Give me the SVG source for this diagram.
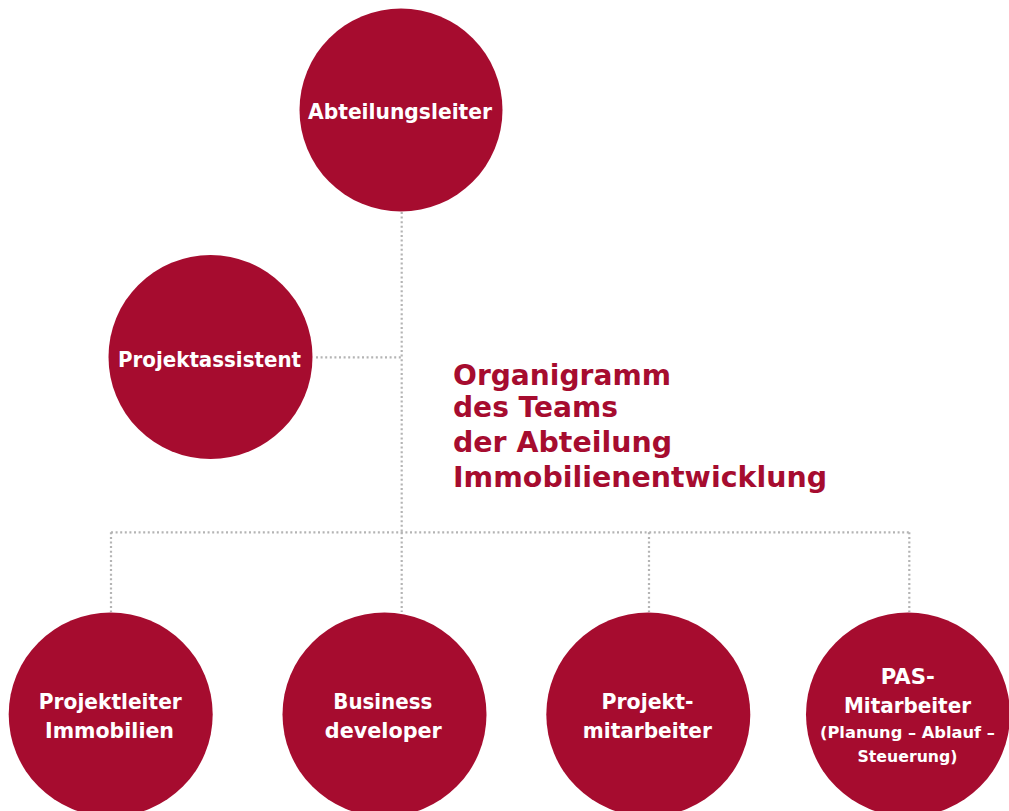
<svg xmlns="http://www.w3.org/2000/svg" width="1009" height="811" viewBox="0 0 1009 811">
<style>
.node{fill:#A60C2F}
.lbl{font-family:"DejaVu Sans","Liberation Sans",sans-serif;font-weight:bold;font-size:21px;fill:#fff;text-anchor:middle}
.sm{font-size:15px}
.title{font-family:"DejaVu Sans","Liberation Sans",sans-serif;font-weight:bold;font-size:29px;fill:#A60C2F}
.con{stroke:#B4B4B4;stroke-width:2.2;stroke-dasharray:2 2.6;fill:none}
</style>
<rect width="1009" height="811" fill="#fff"/>
<g id="connectors">
<path class="con" d="M401.7 212V532"/>
<path class="con" d="M316 357.3H401.7"/>
<path class="con" d="M111 532.3H909.3"/>
<path class="con" d="M111 532.3V612"/>
<path class="con" d="M401.7 532.3V612"/>
<path class="con" d="M649 532.3V612"/>
<path class="con" d="M909.3 532.3V612"/>
</g>
<g id="abteilungsleiter">
<circle class="node" cx="401" cy="110" r="101.5"/>
<text class="lbl" x="400" y="119" textLength="184" lengthAdjust="spacingAndGlyphs">Abteilungsleiter</text>
</g>
<g id="projektassistent">
<circle class="node" cx="210.5" cy="357" r="102"/>
<text class="lbl" x="209.5" y="366.5" textLength="183" lengthAdjust="spacingAndGlyphs">Projektassistent</text>
</g>
<g id="title">
<text class="title" x="453" y="384.5" textLength="218" lengthAdjust="spacingAndGlyphs">Organigramm</text>
<text class="title" x="453" y="417" textLength="165" lengthAdjust="spacingAndGlyphs">des Teams</text>
<text class="title" x="453" y="451.5" textLength="219" lengthAdjust="spacingAndGlyphs">der Abteilung</text>
<text class="title" x="453" y="486.5" textLength="374" lengthAdjust="spacingAndGlyphs">Immobilienentwicklung</text>
</g>
<g id="projektleiter">
<circle class="node" cx="110.7" cy="714.5" r="102"/>
<text class="lbl" x="110.3" y="709" textLength="143" lengthAdjust="spacingAndGlyphs">Projektleiter</text>
<text class="lbl" x="109.5" y="738" textLength="129" lengthAdjust="spacingAndGlyphs">Immobilien</text>
</g>
<g id="business">
<circle class="node" cx="384.5" cy="714.5" r="102"/>
<text class="lbl" x="382.8" y="709" textLength="99" lengthAdjust="spacingAndGlyphs">Business</text>
<text class="lbl" x="383.3" y="738" textLength="117" lengthAdjust="spacingAndGlyphs">developer</text>
</g>
<g id="projektmitarbeiter">
<circle class="node" cx="648.3" cy="714.5" r="102"/>
<text class="lbl" x="647.5" y="709" textLength="92" lengthAdjust="spacingAndGlyphs">Projekt-</text>
<text class="lbl" x="647.3" y="738" textLength="129" lengthAdjust="spacingAndGlyphs">mitarbeiter</text>
</g>
<g id="pas">
<circle class="node" cx="908" cy="714.5" r="102"/>
<text class="lbl" x="907.8" y="684" textLength="54" lengthAdjust="spacingAndGlyphs">PAS-</text>
<text class="lbl" x="907.5" y="713" textLength="127" lengthAdjust="spacingAndGlyphs">Mitarbeiter</text>
<text class="lbl sm" x="907.5" y="738" textLength="175" lengthAdjust="spacingAndGlyphs">(Planung – Ablauf –</text>
<text class="lbl sm" x="907.5" y="762" textLength="100" lengthAdjust="spacingAndGlyphs">Steuerung)</text>
</g>
</svg>
